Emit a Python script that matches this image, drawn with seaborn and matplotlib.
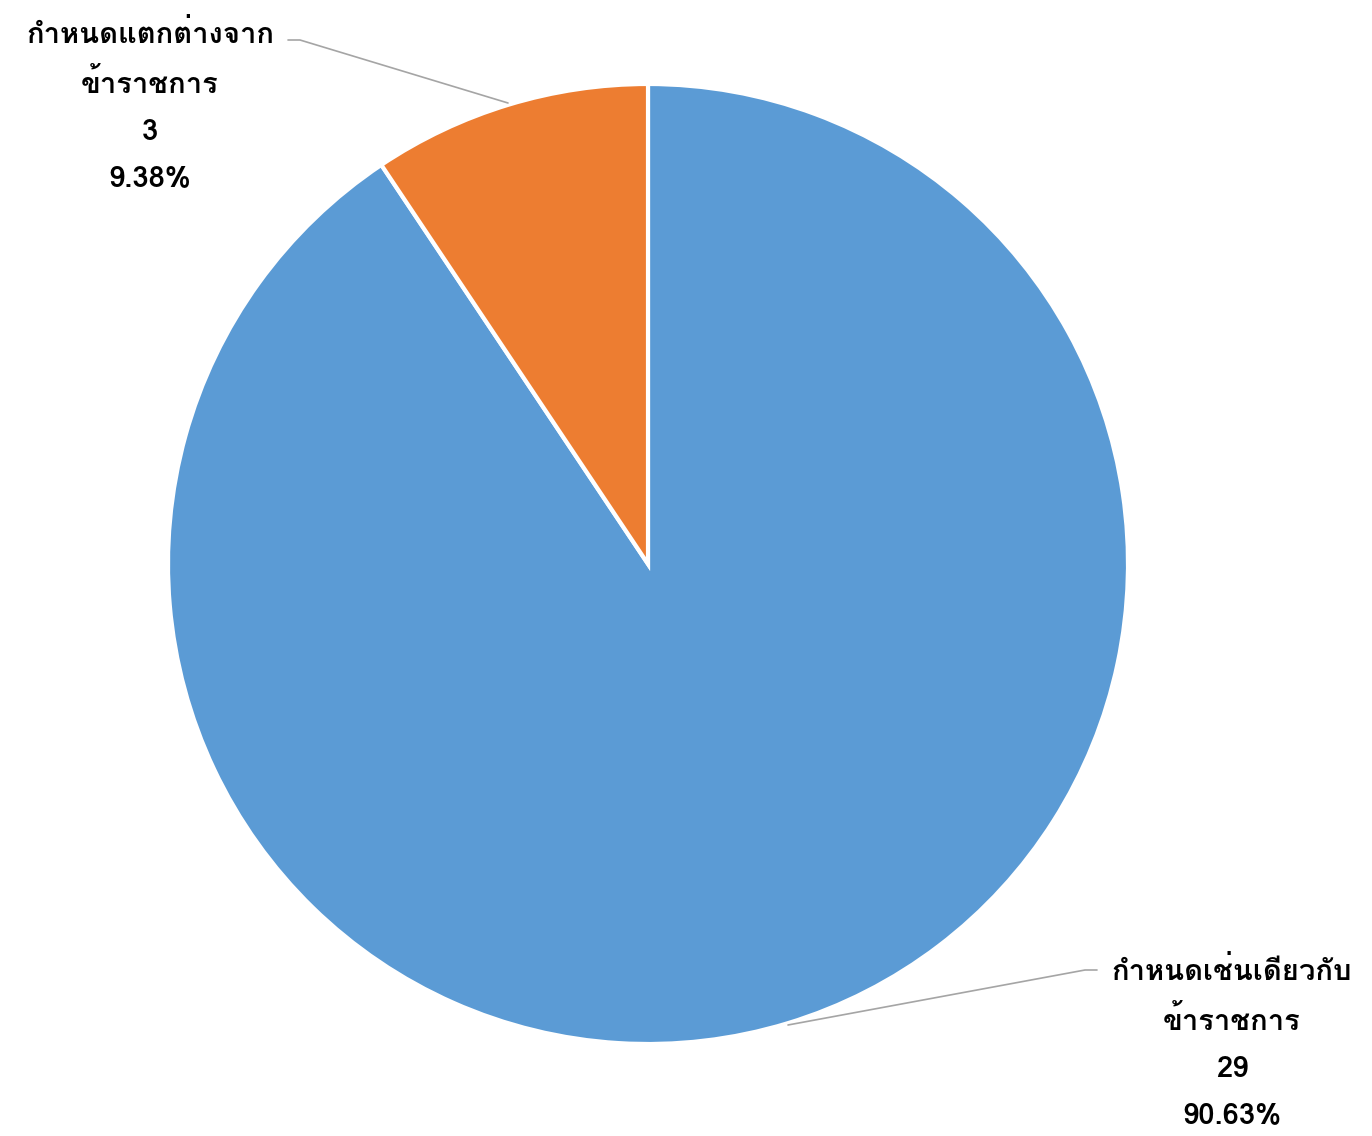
import matplotlib
matplotlib.use('Agg')
import matplotlib.pyplot as plt
import seaborn as sns
from matplotlib import font_manager
from fontTools.ttLib import TTFont

labels = ['กำหนดเช่นเดียวกับ\nข้าราชการ', 'กำหนดแตกต่างจาก\nข้าราชการ']
counts = [29, 3]
percents = ['90.63%', '9.38%']
colors = ['#5B9BD5', '#ED7D31']


def find_thai_font():
    # pick the first installed family that has Thai glyphs
    names = []
    for f in font_manager.fontManager.ttflist:
        try:
            cmap = TTFont(f.fname, fontNumber=0, lazy=True).getBestCmap()
        except Exception:
            continue
        if cmap and 0x0E01 in cmap and 0x0E33 in cmap:
            names.append(f.name)
    return names[0] if names else 'DejaVu Sans'


sns.set_theme(style='white')
thai = find_thai_font()
plt.rcParams['font.family'] = [thai, 'DejaVu Sans']

fig = plt.figure(figsize=(13.72, 11.36), dpi=100)
ax = fig.add_axes([168 / 1372, 92 / 1136, 960 / 1372, 960 / 1136])

wedges, _ = ax.pie(counts, colors=colors, startangle=90, counterclock=False,
                   radius=1, wedgeprops=dict(edgecolor='white', linewidth=3))
ax.set_xlim(-1, 1)
ax.set_ylim(-1, 1)
ax.set_aspect('equal')
ax.axis('off')

# label positions in axes data coords (pixel layout of the reference)
def px(x, y):
    return ((x - 648) / 480, (564 - y) / 480)

label_pos = [px(1232, 1043), px(150, 106)]
arrow_pos = [(px(788, 1025), px(1085, 970), px(1097, 970)),
             (px(508, 103), px(300, 40), px(288, 40))]
ha = ['center', 'center']

for i in range(len(counts)):
    txt = f'{labels[i]}\n{counts[i]}\n{percents[i]}'
    ax.text(*label_pos[i], txt, ha='center', va='center', fontsize=21,
            fontweight='bold', linespacing=1.85, color='black', clip_on=False)
    p0, p1, p2 = arrow_pos[i]
    ax.plot([p0[0], p1[0], p2[0]], [p0[1], p1[1], p2[1]], color='#A5A5A5',
            lw=1.2, clip_on=False)

fig.savefig('out.png', dpi=100)
